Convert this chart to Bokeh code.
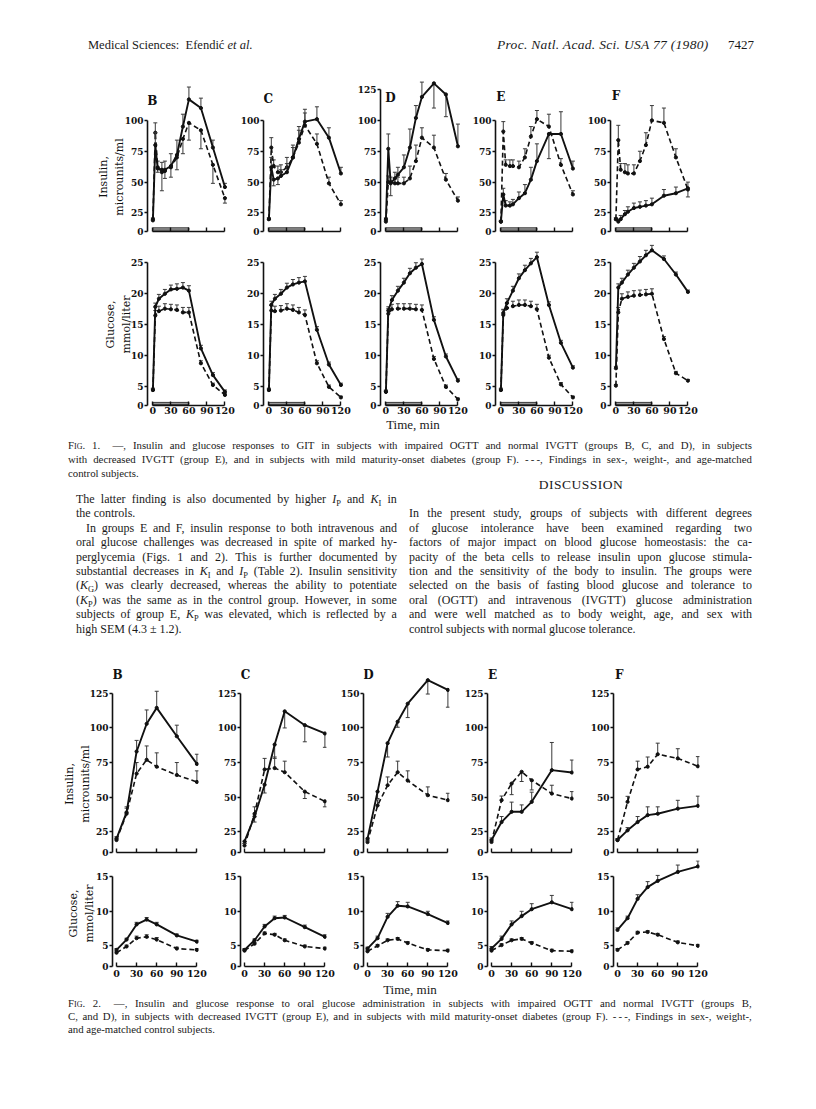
from bokeh.plotting import figure
from bokeh.models import Range1d, FixedTicker, Label, Div, ColumnDataSource
from bokeh.layouts import row, column
from bokeh.embed import file_html
from bokeh.resources import INLINE

groups = ["B", "C", "D", "E", "F"]
time_ticks = [0, 30, 60, 90, 120]
infusion = [0, 60]

# ---------------- Fig. 1 : glucose infusion test ----------------
fig1_t_ins = [0, 4, 8, 15, 20, 30, 40, 50, 60, 80, 100, 120]
fig1_t_glu = [0, 4, 10, 20, 30, 40, 50, 60, 80, 100, 120]

fig1_ins_B_pat = [19, 80, 61, 60, 60, 63, 72, 95, 117, 110, 78, 46]
fig1_ins_B_pat_err = [1, 10, 6, 6, 7, 10, 12, 10, 10, 8, 6, 3]
fig1_ins_B_ctl = [20, 90, 62, 58, 59, 62, 70, 85, 98, 92, 64, 37]
fig1_ins_B_ctl_err = [1, 8, -4, -15, -6, -8, -10, -12, -14, -15, -15, -4]
fig1_ins_C_pat = [20, 62, 52, 53, 55, 58, 70, 85, 99, 101, 86, 57]
fig1_ins_C_pat_err = [1, 8, -5, -5, 5, 7, 8, 10, 10, 10, 8, 5]
fig1_ins_C_ctl = [20, 78, 63, 58, 58, 62, 70, 82, 96, 81, 49, 32]
fig1_ins_C_ctl_err = [1, 8, 5, 5, 6, 8, 10, 10, 10, 8, 5, 3]
fig1_ins_D_pat = [20, 77, 49, 53, 56, 62, 78, 102, 119, 130, 121, 79]
fig1_ins_D_pat_err = [1, 12, -10, 5, 6, 10, 15, 10, 12, -20, -18, 18]
fig1_ins_D_ctl = [18, 50, 50, 49, 49, 49, 53, 67, 86, 78, 52, 35]
fig1_ins_D_ctl_err = [1, 5, 4, 4, 5, 5, 10, 13, 8, 10, 5, 3]
fig1_ins_E_pat = [18, 40, 31, 31, 32, 37, 41, 52, 67, 89, 89, 61]
fig1_ins_E_pat_err = [1, 5, 4, 3, 4, 5, 7, 10, 14, -20, 18, 6]
fig1_ins_E_ctl = [18, 91, 64, 63, 63, 62, 70, 87, 101, 95, 64, 40]
fig1_ins_E_ctl_err = [1, 8, 4, 5, 5, 5, 7, 8, 7, 10, 5, 3]
fig1_ins_F_pat = [20, 18, 20, 24, 26, 29, 30, 31, 32, 39, 41, 45]
fig1_ins_F_pat_err = [1, 2, 3, 3, 4, 4, 4, 4, 5, 5, 5, 5]
fig1_ins_F_ctl = [20, 84, 60, 58, 57, 57, 67, 80, 100, 98, 70, 44]
fig1_ins_F_ctl_err = [1, 12, 5, 7, 7, 7, 8, 10, 12, 12, 7, -6]

fig1_glu_B_pat = [4.5, 17.9, 19.2, 20.0, 20.7, 20.8, 21.0, 20.5, 11.2, 6.9, 4.2]
fig1_glu_B_ctl = [4.5, 16.5, 17.2, 17.6, 17.5, 17.4, 17.0, 17.0, 8.8, 5.3, 3.7]
fig1_glu_C_pat = [4.5, 18.2, 19.2, 20.0, 21.0, 21.5, 21.8, 22.0, 14.2, 8.6, 5.3]
fig1_glu_C_ctl = [4.5, 17.3, 17.2, 17.3, 17.6, 17.4, 17.0, 16.6, 8.8, 5.0, 3.3]
fig1_glu_D_pat = [4.2, 17.3, 19.0, 20.5, 21.8, 23.3, 24.2, 24.8, 15.8, 9.9, 6.0]
fig1_glu_D_ctl = [4.2, 16.8, 17.5, 17.6, 17.6, 17.6, 17.5, 17.4, 9.5, 5.0, 3.0]
fig1_glu_E_pat = [4.5, 16.9, 18.5, 20.5, 22.5, 23.8, 24.9, 25.9, 18.2, 12.1, 8.1]
fig1_glu_E_ctl = [4.5, 16.6, 17.7, 18.0, 18.2, 18.2, 18.0, 17.5, 9.7, 5.4, 3.3]
fig1_glu_F_pat = [8.0, 21.0, 21.8, 23.1, 24.2, 25.2, 26.2, 27.0, 25.6, 23.1, 20.3]
fig1_glu_F_ctl = [5.2, 17.0, 19.2, 19.5, 19.7, 19.8, 19.9, 20.0, 12.7, 7.2, 6.0]
fig1_glu_pat_err = [0.3, 0.6, 0.7, 0.7, 0.7, 0.8, 0.8, 0.8, 0.5, 0.4, 0.3]
fig1_glu_ctl_err = [0.2, 0.8, 0.8, 0.8, 0.8, 0.8, 0.8, 0.8, 0.4, 0.3, 0.2]

fig1_ins_ticks = {"B": [25, 50, 75, 100], "C": [25, 50, 75, 100], "D": [25, 50, 75, 100, 125],
                  "E": [25, 50, 75, 100], "F": [25, 50, 75, 100]}
fig1_glu_ticks = [5, 10, 15, 20, 25]

# ---------------- Fig. 2 : oral glucose ----------------
fig2_t = [0, 15, 30, 45, 60, 90, 120]

fig2_ins_B_pat = [20, 39, 83, 103, 114.5, 94, 74]
fig2_ins_B_pat_err = [1.5, 4, 8, 10, 12, 8, 7]
fig2_ins_B_ctl = [19, 38, 67, 77, 72, 66, 61]
fig2_ins_B_ctl_err = [1.5, 4, 8, 10, 10, 9, 8]
fig2_ins_C_pat = [18, 36, 59, 88, 112, 102, 96]
fig2_ins_C_pat_err = [-1.5, -4, -6, -10, -12, -12, -10]
fig2_ins_C_ctl = [15, 38, 70, 71, 68, 54, 47]
fig2_ins_C_ctl_err = [1.5, 5, 8, 8, 8, -5, -4]
fig2_ins_D_pat = [20, 54, 89, 109, 135, 169, 155]
fig2_ins_D_pat_err = [-1.5, -5, -10, -8, -20, -20, -25]
fig2_ins_D_ctl = [17.5, 44, 58.6, 68, 62, 51.4, 47.8]
fig2_ins_D_ctl_err = [1.5, 4, 6, 8, 7, 6, 5]
fig2_ins_E_pat = [19, 32, 39.4, 39.4, 46.6, 69.5, 67.8]
fig2_ins_E_pat_err = [1.5, 4, 7, 5, 7, 20, 9]
fig2_ins_E_ctl = [17.6, 47.8, 59.8, 68.3, 62.2, 52.6, 49]
fig2_ins_E_ctl_err = [1.5, 3, -8, -7, -7, 6, 5]
fig2_ins_F_pat = [19, 26, 32, 37, 38, 41.7, 43.7]
fig2_ins_F_pat_err = [1, 2, 4, 6, 5, 6, 7]
fig2_ins_F_ctl = [19, 46.6, 70, 72, 81, 78, 72.3]
fig2_ins_F_ctl_err = [1, 4, 6, 7, 8, 7, 7]

fig2_glu_B_pat = [4.4, 5.9, 8.1, 8.8, 8.1, 6.5, 5.6]
fig2_glu_B_pat_err = [0.2, 0.2, 0.3, 0.3, 0.3, 0.2, 0.2]
fig2_glu_B_ctl = [4.0, 4.9, 6.1, 6.3, 5.9, 4.6, 4.4]
fig2_glu_B_ctl_err = [0.2, 0.2, 0.3, 0.3, 0.3, 0.2, 0.2]
fig2_glu_C_pat = [4.4, 5.8, 7.8, 9.0, 9.1, 7.7, 6.3]
fig2_glu_C_pat_err = [0.2, 0.2, 0.3, 0.3, 0.3, 0.3, 0.3]
fig2_glu_C_ctl = [4.3, 5.3, 6.8, 6.6, 5.8, 4.9, 4.6]
fig2_glu_C_ctl_err = [0.2, 0.2, 0.2, 0.2, 0.2, 0.2, 0.2]
fig2_glu_D_pat = [4.6, 6.1, 9.2, 10.8, 10.7, 9.6, 8.3]
fig2_glu_D_pat_err = [0.2, 0.3, 0.5, 0.6, 0.6, 0.4, 0.3]
fig2_glu_D_ctl = [4.2, 5.0, 5.8, 6.0, 5.4, 4.4, 4.3]
fig2_glu_D_ctl_err = [0.2, 0.2, 0.2, 0.2, 0.2, 0.2, 0.2]
fig2_glu_E_pat = [4.6, 6.0, 8.1, 9.3, 10.3, 11.3, 10.3]
fig2_glu_E_pat_err = [0.3, 0.4, 0.5, 0.7, 0.8, 1.0, 1.0]
fig2_glu_E_ctl = [4.3, 5.1, 5.8, 6.0, 5.4, 4.3, 4.2]
fig2_glu_E_ctl_err = [0.2, 0.2, 0.2, 0.2, 0.2, 0.2, 0.2]
fig2_glu_F_pat = [7.3, 9.0, 11.8, 13.5, 14.4, 15.7, 16.5]
fig2_glu_F_pat_err = [0.3, 0.3, 0.6, 0.8, 0.8, 1.0, 0.8]
fig2_glu_F_ctl = [4.4, 5.4, 6.9, 7.0, 6.6, 5.5, 5.0]
fig2_glu_F_ctl_err = [0.2, 0.2, 0.2, 0.2, 0.2, 0.2, 0.2]

fig2_ins_ticks = [25, 50, 75, 100, 125]
fig2_ins_tick_labels = {"B": ["25", "50", "75", "100", "125"], "C": ["25", "50", "75", "100", "125"],
                        "D": ["25", "50", "75", "100", "150"], "E": ["25", "50", "75", "100", "125"],
                        "F": ["25", "50", "75", "100", "125"]}
fig2_glu_ticks = [5, 10, 15]

G = globals()
fig1_ins = {g: (G[f"fig1_ins_{g}_pat"], G[f"fig1_ins_{g}_pat_err"], G[f"fig1_ins_{g}_ctl"], G[f"fig1_ins_{g}_ctl_err"]) for g in groups}
fig1_glu = {g: (G[f"fig1_glu_{g}_pat"], fig1_glu_pat_err, G[f"fig1_glu_{g}_ctl"], fig1_glu_ctl_err) for g in groups}
fig2_ins = {g: (G[f"fig2_ins_{g}_pat"], G[f"fig2_ins_{g}_pat_err"], G[f"fig2_ins_{g}_ctl"], G[f"fig2_ins_{g}_ctl_err"]) for g in groups}
fig2_glu = {g: (G[f"fig2_glu_{g}_pat"], G[f"fig2_glu_{g}_pat_err"], G[f"fig2_glu_{g}_ctl"], G[f"fig2_glu_{g}_ctl_err"]) for g in groups}

TICK_FONT = "DejaVu Serif"
INK = "#111111"


def ident(v):
    return v


def broken150(v):
    # axis break above 100 (upper part compressed 2:1)
    return v if v <= 100 else 100 + (v - 100) / 2.0


def panel(width, L, R, T, Bo, height, xr, yr):
    p = figure(width=width, height=height, x_range=Range1d(*xr), y_range=Range1d(*yr),
               output_backend="svg", toolbar_location=None,
               min_border_left=L, min_border_right=R, min_border_top=T, min_border_bottom=Bo)
    p.outline_line_color = None
    p.xgrid.visible = False
    p.ygrid.visible = False
    p.background_fill_color = "white"
    p.border_fill_color = "white"
    return p


def style(p, Z, yticks, ylabels, show_x, x_standoff=2):
    xa = p.xaxis[0]
    xa.bounds = (0, 120)
    xa.axis_line_width = 1.6
    xa.axis_line_color = INK
    if show_x:
        xa.ticker = FixedTicker(ticks=time_ticks)
        xa.major_tick_in = 4
        xa.major_tick_out = 0
        xa.major_tick_line_width = 1.4
        xa.major_tick_line_color = INK
        xa.minor_tick_line_color = None
        xa.major_label_text_font = TICK_FONT
        xa.major_label_text_font_style = "bold"
        xa.major_label_text_color = INK
        xa.major_label_text_font_size = "9.5px"
        xa.major_label_standoff = x_standoff
    else:
        # unlabeled time axis: only inward tick marks
        xa.ticker = FixedTicker(ticks=[], minor_ticks=time_ticks)
        xa.major_tick_line_color = None
        xa.minor_tick_in = 4
        xa.minor_tick_out = 0
        xa.minor_tick_line_width = 1.4
        xa.minor_tick_line_color = INK
    ya = p.yaxis[0]
    ya.ticker = FixedTicker(ticks=[Z] + list(yticks))
    ov = {Z: "0"}
    for t, l in zip(yticks, ylabels):
        ov[t] = l
    ya.major_label_overrides = ov
    ya.bounds = (Z, yticks[-1])
    ya.major_tick_in = 0
    ya.major_tick_out = 3
    ya.minor_tick_line_color = None
    ya.axis_line_width = 1.6
    ya.axis_line_color = INK
    ya.major_tick_line_width = 1.4
    ya.major_tick_line_color = INK
    ya.major_label_text_font = TICK_FONT
    ya.major_label_text_font_style = "bold"
    ya.major_label_text_font_size = "9px"
    ya.major_label_text_color = INK
    ya.major_label_standoff = 1


def ylabel(p, text, standoff):
    ya = p.yaxis[0]
    ya.axis_label = text
    ya.axis_label_text_font = "DejaVu Serif"
    ya.axis_label_text_font_style = "normal"
    ya.axis_label_text_font_size = "11px"
    ya.axis_label_text_color = INK
    ya.axis_label_standoff = standoff


def series(p, t, v, err, dashed, tf=ident):
    y = [tf(a) for a in v]
    ye = [tf(a + e) for a, e in zip(v, err)]
    src = ColumnDataSource(dict(t=t, y=y, ye=ye))
    p.segment(x0="t", y0="y", x1="t", y1="ye", source=src, line_color="#3a3a3a", line_width=1)
    p.scatter("t", "ye", source=src, marker="dash", size=4, line_color="#3a3a3a", line_width=1)
    p.line("t", "y", source=src, line_color=INK, line_width=1.9 if not dashed else 1.6,
           line_dash="5 3" if dashed else "solid")
    p.scatter("t", "y", source=src, size=3.2, fill_color=INK, line_color=INK)


def infusion_bar(p, Z, h):
    src = ColumnDataSource(dict(l=[infusion[0]], r=[infusion[1]], b=[Z + h * 0.35], t=[Z + h]))
    p.quad(left="l", right="r", bottom="b", top="t", source=src, fill_color="#a0a0a0",
           line_color=INK, line_width=0.8)


def letter(p, x, y, text):
    p.add_layout(Label(x=x, y=y, text=text, text_font="DejaVu Serif", text_font_style="bold",
                       text_font_size="12px", text_color=INK, text_align="center",
                       text_baseline="middle"))


NB = "\u00a0"

# ---------------- Fig. 1 panels ----------------
f1_axes = {"B": 147, "C": 263, "D": 380, "E": 495, "F": 610}
f1_letter_pos = {"B": (-1, 116.1), "C": (-1, 117.7), "D": (7.7, 118.5), "E": (0, 119.3), "F": (0, 120.1)}
F1_FRAME_W = 80
F1_R = 9
F1_X = (-9, 124.3)
F1_INS_Z, F1_INS_TOP = 10, 132.3
F1_GLU_Z, F1_GLU_TOP = 2, 28.1

f1_cols = []
prev_end = 0
for g in groups:
    ax = f1_axes[g]
    L = ax - prev_end
    W = L + F1_FRAME_W + F1_R
    prev_end = prev_end + W
    pi = panel(W, L, F1_R, 12, 9, 172, F1_X, (F1_INS_Z, F1_INS_TOP))
    ticks = fig1_ins_ticks[g]
    style(pi, F1_INS_Z, ticks, [str(t) for t in ticks], False)
    infusion_bar(pi, F1_INS_Z, 3.0)
    pat, pe, ctl, ce = fig1_ins[g]
    series(pi, fig1_t_ins, ctl, ce, True)
    series(pi, fig1_t_ins, pat, pe, False)
    letter(pi, *f1_letter_pos[g], g)
    pg = panel(W, L, F1_R, 3, 14, 179, F1_X, (F1_GLU_Z, F1_GLU_TOP))
    style(pg, F1_GLU_Z, fig1_glu_ticks, [str(t) for t in fig1_glu_ticks], True, x_standoff=1)
    infusion_bar(pg, F1_GLU_Z, 0.5)
    pat, pe, ctl, ce = fig1_glu[g]
    series(pg, fig1_t_glu, ctl, ce, True)
    series(pg, fig1_t_glu, pat, pe, False)
    if g == "B":
        ylabel(pi, "Insulin," + NB * 12 + "\nmicrounits/ml" + NB * 12, -4)
        ylabel(pg, "Glucose,\nmmol/liter", -5)
    f1_cols.append(column(pi, pg, spacing=0))
fig1_row = row(*f1_cols, spacing=0)

# ---------------- Fig. 2 panels ----------------
f2_axes = {"B": 112, "C": 240, "D": 363, "E": 487, "F": 613}
f2_letter_pos = {"B": (1.5, 137.9), "C": (1.5, 137.9), "D": (1.5, 137.9), "E": (1.5, 137.9), "F": (2.5, 137.9)}
F2_FRAME_W = 86
F2_R = 9
F2_X = (-6, 122.4)
F2_INS_Z, F2_INS_TOP = 10, 144.4
F2_GLU_Z, F2_GLU_TOP = 2, 17.36

f2_cols = []
prev_end = 0
for g in groups:
    ax = f2_axes[g]
    L = ax - prev_end
    W = L + F2_FRAME_W + F2_R
    prev_end = prev_end + W
    tf = broken150 if g == "D" else ident
    pi = panel(W, L, F2_R, 16, 8, 210, F2_X, (F2_INS_Z, F2_INS_TOP))
    style(pi, F2_INS_Z, fig2_ins_ticks, fig2_ins_tick_labels[g], False)
    pat, pe, ctl, ce = fig2_ins[g]
    series(pi, fig2_t, ctl, ce, True, tf)
    series(pi, fig2_t, pat, pe, False, tf)
    letter(pi, *f2_letter_pos[g], g)
    pg = panel(W, L, F2_R, 0, 16, 122, F2_X, (F2_GLU_Z, F2_GLU_TOP))
    style(pg, F2_GLU_Z, fig2_glu_ticks, [str(t) for t in fig2_glu_ticks], True, x_standoff=3)
    pat, pe, ctl, ce = fig2_glu[g]
    series(pg, fig2_t, ctl, ce, True)
    series(pg, fig2_t, pat, pe, False)
    if g == "B":
        ylabel(pi, "Insulin," + NB * 14 + "\nmicrounits/ml" + NB * 14, -5)
        ylabel(pg, "Glucose,\nmmol/liter", -3)
    f2_cols.append(column(pi, pg, spacing=0))
fig2_row = row(*f2_cols, spacing=0)

# ---------------- text bands ----------------
SERIF = "'Liberation Serif', 'Times New Roman', serif"
TXT = "#1a1a1a"


def just_line(x, yc, top0, width, words, size, lh=14):
    top = yc - lh / 2 - top0
    spans = "".join(f"<span>{w}</span>" for w in words)
    return (f'<div style="position:absolute;left:{x}px;top:{top}px;width:{width}px;height:{lh}px;'
            f'line-height:{lh}px;display:flex;justify-content:space-between;white-space:nowrap;'
            f'font-family:{SERIF};font-size:{size}px;color:{TXT};">{spans}</div>')


def left_line(x, yc, top0, html, size, lh=14, extra=""):
    top = yc - lh / 2 - top0
    return (f'<div style="position:absolute;left:{x}px;top:{top}px;height:{lh}px;line-height:{lh}px;'
            f'white-space:nowrap;font-family:{SERIF};font-size:{size}px;color:{TXT};{extra}">{html}</div>')


def center_line(xc, yc, top0, html, size, lh=14, extra=""):
    top = yc - lh / 2 - top0
    return (f'<div style="position:absolute;left:{xc - 150}px;width:300px;text-align:center;top:{top}px;'
            f'height:{lh}px;line-height:{lh}px;white-space:nowrap;font-family:{SERIF};font-size:{size}px;'
            f'color:{TXT};{extra}">{html}</div>')


def band(height, items):
    html = (f'<div style="position:relative;width:816px;height:{height}px;overflow:visible;">'
            + "".join(items) + "</div>")
    return Div(text=html, width=816, height=height, margin=0)


def sub(a, b):
    return f'<i>{a}</i><sub style="font-size:70%;font-style:normal">{b}</sub>'


FIG = 'F<span style="font-variant:small-caps">ig</span>.'

# header band: page y 0..68
H0 = 0
header = band(68, [
    left_line(88, 45, H0, "Medical Sciences:&nbsp;&nbsp;Efendi&#263; <i>et al.</i>", 12.5, lh=16),
    left_line(497, 45, H0, "<i>Proc. Natl. Acad. Sci. USA 77 (1980)</i>", 13.5, lh=16,
              extra="letter-spacing:0.3px;"),
    left_line(728, 45, H0, "7427", 13, lh=16),
])

# band 2: page y 419..650
B2 = 419
cap1 = [
    [FIG, "1.", "&nbsp;&nbsp;&mdash;,", "Insulin", "and", "glucose", "responses", "to", "GIT", "in", "subjects", "with",
     "impaired", "OGTT", "and", "normal", "IVGTT", "(groups", "B,", "C,", "and", "D),", "in", "subjects"],
    ["with", "decreased", "IVGTT", "(group", "E),", "and", "in", "subjects", "with", "mild", "maturity-onset", "diabetes",
     "(group", "F).", "-&thinsp;-&thinsp;-,", "Findings", "in", "sex-,", "weight-,", "and", "age-matched"],
]
left_txt = [
    ["The", "latter", "finding", "is", "also", "documented", "by", "higher", sub("I", "P"), "and", sub("K", "I"), "in"],
    None,
    ["In", "groups", "E", "and", "F,", "insulin", "response", "to", "both", "intravenous", "and"],
    ["oral", "glucose", "challenges", "was", "decreased", "in", "spite", "of", "marked", "hy-"],
    ["perglycemia", "(Figs.", "1", "and", "2).", "This", "is", "further", "documented", "by"],
    ["substantial", "decreases", "in", sub("K", "I"), "and", sub("I", "P"), "(Table", "2).", "Insulin", "sensitivity"],
    ["(" + sub("K", "G") + ")", "was", "clearly", "decreased,", "whereas", "the", "ability", "to", "potentiate"],
    ["(" + sub("K", "P") + ")", "was", "the", "same", "as", "in", "the", "control", "group.", "However,", "in", "some"],
    ["subjects", "of", "group", "E,", sub("K", "P"), "was", "elevated,", "which", "is", "reflected", "by", "a"],
]
right_txt = [
    "In the present study, groups of subjects with different degrees",
    "of glucose intolerance have been examined regarding two",
    "factors of major impact on blood glucose homeostasis: the ca-",
    "pacity of the beta cells to release insulin upon glucose stimula-",
    "tion and the sensitivity of the body to insulin. The groups were",
    "selected on the basis of fasting blood glucose and tolerance to",
    "oral (OGTT) and intravenous (IVGTT) glucose administration",
    "and were well matched as to body weight, age, and sex with",
]

items2 = [center_line(413, 425, B2, "Time, min", 13, lh=14)]
items2.append(just_line(68, 445, B2, 684, cap1[0], 10.8, lh=13))
items2.append(just_line(68, 459, B2, 684, cap1[1], 10.8, lh=13))
items2.append(left_line(68, 473, B2, "control subjects.", 10.8, lh=13))
ys_left = [499, 513.4, 527.8, 542.2, 556.6, 571, 585.4, 599.8, 614.2, 628.6]
for i, yc in enumerate(ys_left):
    if i == 1:
        items2.append(left_line(76, yc, B2, "the controls.", 12))
    elif i == 9:
        items2.append(left_line(76, yc, B2, "high SEM (4.3 &plusmn; 1.2).", 12))
    elif i == 2:
        items2.append(just_line(86, yc, B2, 311, left_txt[i], 12))
    else:
        items2.append(just_line(76, yc, B2, 321, left_txt[i], 12))
items2.append(center_line(581, 485, B2, "DISCUSSION", 13.5, lh=16, extra="letter-spacing:0.5px;"))
ys_right = [513.4, 527.8, 542.2, 556.6, 571, 585.4, 599.8, 614.2]
for s, yc in zip(right_txt, ys_right):
    items2.append(just_line(409, yc, B2, 343, s.split(" "), 12))
items2.append(left_line(409, 628.6, B2, "control subjects with normal glucose tolerance.", 12))
band2 = band(231, items2)

# band 3: page y 982..1062
B3 = 982
cap2 = [
    [FIG, "2.", "&nbsp;&nbsp;&mdash;,", "Insulin", "and", "glucose", "response", "to", "oral", "glucose", "administration", "in",
     "subjects", "with", "impaired", "OGTT", "and", "normal", "IVGTT", "(groups", "B,"],
    ["C,", "and", "D),", "in", "subjects", "with", "decreased", "IVGTT", "(group", "E),", "and", "in", "subjects", "with",
     "mild", "maturity-onset", "diabetes", "(group", "F).", "-&thinsp;-&thinsp;-,", "Findings", "in", "sex-,", "weight-,"],
]
items3 = [center_line(410, 990, B3, "Time, min", 13, lh=14)]
items3.append(just_line(68, 1003, B3, 684, cap2[0], 10.8, lh=13))
items3.append(just_line(68, 1016, B3, 684, cap2[1], 10.8, lh=13))
items3.append(left_line(68, 1029, B3, "and age-matched control subjects.", 10.8, lh=13))
band3 = band(80, items3)

page = column(header, fig1_row, band2, fig2_row, band3, spacing=0)
open("out.html", "w").write(file_html(page, INLINE, title="Efendic et al. 1980, Figs. 1 and 2"))
